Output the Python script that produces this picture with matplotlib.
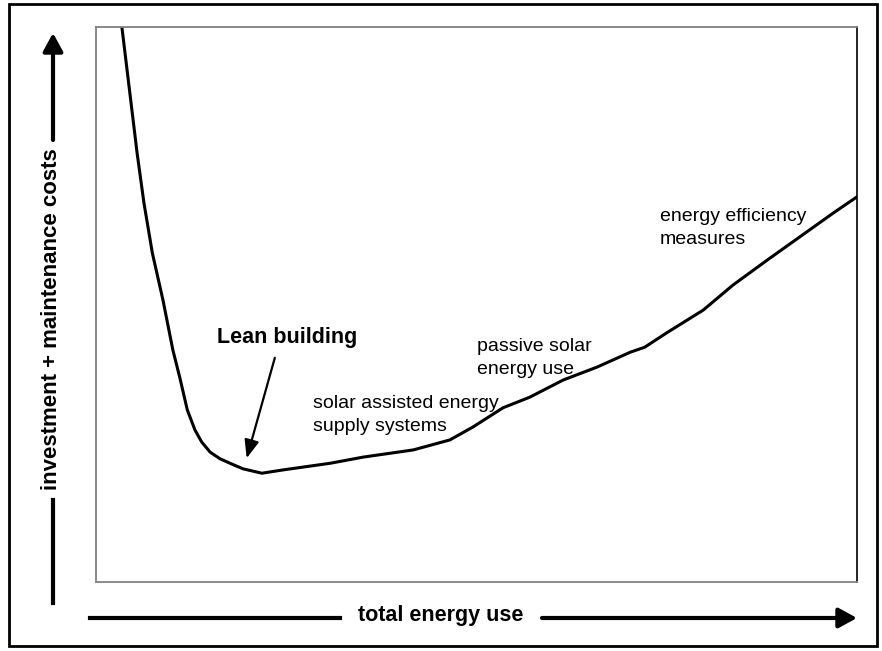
import matplotlib
matplotlib.use('Agg')
import matplotlib.pyplot as plt
from matplotlib.patches import Rectangle, FancyArrowPatch

plt.rcParams['font.family'] = ['Liberation Sans', 'DejaVu Sans']

# curve (0..100 on both axes)
energy_use = [3.4, 5.4, 6.3, 7.4, 8.8, 10.1, 11.0, 12.0, 13.0, 13.9, 15.0, 16.3,
              17.6, 19.3, 21.8, 24.6, 30.8, 35.1, 41.7, 46.5, 49.5, 53.5, 57.0,
              61.4, 65.8, 70.2, 72.1, 75.0, 79.8, 83.7, 88.2, 92.5, 96.9, 100.0]
costs = [100.0, 77.3, 68.3, 59.3, 50.8, 41.8, 36.9, 31.0, 27.4, 25.2, 23.4, 22.2,
         21.4, 20.4, 19.6, 20.2, 21.4, 22.5, 23.8, 25.6, 27.9, 31.4, 33.3,
         36.4, 38.7, 41.4, 42.3, 44.9, 49.0, 53.5, 58.0, 62.2, 66.5, 69.4]

labels = ['solar assisted energy\nsupply systems',
          'passive solar\nenergy use',
          'energy efficiency\nmeasures']
label_x = [28.5, 50.1, 74.1]
label_y = [30.1, 40.4, 63.8]

W, H = 882, 651
fig = plt.figure(figsize=(W / 100, H / 100), dpi=100)

def fx(px):
    return px / W

def fy(py):
    return 1 - py / H

ax = fig.add_axes([fx(96), fy(582), (857 - 96) / W, (582 - 27) / H])
ax.plot(energy_use, costs, color='black', lw=2.2, solid_joinstyle='round')
ax.set_xlim(0, 100)
ax.set_ylim(0, 100)
ax.set_xticks([])
ax.set_yticks([])
for side in ['top', 'left', 'bottom']:
    ax.spines[side].set_color('#808080')
    ax.spines[side].set_linewidth(1.3)
ax.spines['right'].set_color('black')
ax.spines['right'].set_linewidth(1.2)

for t, x, y in zip(labels, label_x, label_y):
    ax.text(x, y, t, fontsize=14, ha='left', va='center', linespacing=1.5)

ax.text(25.1, 44.0, 'Lean building', fontsize=15.5, fontweight='bold',
        ha='center', va='center')
ax.annotate('', xy=(19.8, 22.3), xytext=(23.5, 40.4),
            arrowprops=dict(arrowstyle='-|>,head_length=0.55,head_width=0.22',
                            color='black', lw=1.6, mutation_scale=20,
                            shrinkA=0, shrinkB=0))

head = '-|>,head_length=0.55,head_width=0.3'

# axis arrows drawn on the figure
fig.lines.append(plt.Line2D([fx(90), fx(340)], [fy(618), fy(618)],
                            transform=fig.transFigure, color='black', lw=3))
fig.patches.append(FancyArrowPatch(
    (fx(542), fy(618)), (fx(857), fy(618)), transform=fig.transFigure,
    arrowstyle=head, mutation_scale=20, color='black', lw=3,
    shrinkA=0, shrinkB=0))
fig.text(fx(441), fy(615), 'total energy use', fontsize=15.5, fontweight='bold',
         ha='center', va='center')

fig.lines.append(plt.Line2D([fx(53), fx(53)], [fy(603), fy(500)],
                            transform=fig.transFigure, color='black', lw=3))
fig.patches.append(FancyArrowPatch(
    (fx(53), fy(140)), (fx(53), fy(33)), transform=fig.transFigure,
    arrowstyle=head, mutation_scale=20, color='black', lw=3,
    shrinkA=0, shrinkB=0))
fig.text(fx(52), fy(319), 'investment + maintenance costs', fontsize=16,
         fontweight='bold', rotation=90, ha='center', va='center')

# outer frame
fig.patches.append(Rectangle((fx(9), fy(646)), fx(877) - fx(9), fy(4) - fy(646),
                             transform=fig.transFigure, fill=False,
                             edgecolor='black', lw=2))

fig.savefig('out.png', dpi=100)
